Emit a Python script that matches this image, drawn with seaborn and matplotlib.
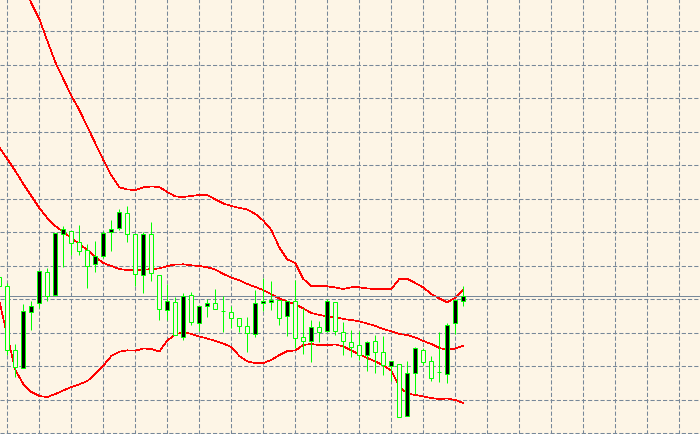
import numpy as np
import pandas as pd
import seaborn as sns
import matplotlib.pyplot as plt

# Culori in stilul terminalului
BG = "#FDF5E6"      # OldLace
GRID = "#778899"    # LightSlateGray
CANDLE = "#00FF00"  # Lime
BAND = "#FF0000"
PX = 0.72           # 1 pixel in puncte la dpi=100

sns.set_theme(style="whitegrid", rc={"axes.facecolor": BG, "figure.facecolor": BG})

# Date (unitati de pret arbitrare)
opens = [156.7, 147.7, 84, 66, 121.7, 131.3, 161.7, 139.3, 199.7, 203.3,
         191.7, 183.7, 170, 177.7, 201.7, 205.7, 221, 200, 158.7, 200,
         159.3, 124, 131.7, 97.3, 139.3, 111, 127.7, 130.7, 123.3, 121.7,
         115.7, 107.7, 99.7, 130.7, 131.7, 134, 117.7, 132.7, 96.7, 92.7,
         107.3, 103.3, 132.3, 101.7, 92.5, 88.7, 78.7, 92.7, 81.7, 68,
         70, 17.7, 61, 84.5, 72.7, 62, 60, 110.7, 132.7]
highs = [159, 151, 90, 130, 132.7, 162.7, 165.7, 201, 207.7, 203.3,
         209, 190, 192.7, 203.3, 214, 225, 228.3, 200, 201.7, 211.7,
         159.3, 149.7, 137, 140.7, 141.7, 128.3, 135, 145, 138.3, 127.7,
         115.7, 117, 144.3, 155.7, 153, 134, 133.3, 154, 126, 114.3,
         112.7, 135, 132.3, 112, 104, 102.7, 93.3, 99, 97.7, 73.5,
         70, 72.7, 87.3, 85.7, 77.7, 101.7, 111, 134, 147.7]
lows = [146, 79.3, 57.3, 65.7, 104, 126, 133.3, 139.3, 167.3, 179.3,
        179.3, 146, 161.7, 176.3, 183.3, 204.3, 192.3, 147.7, 141, 153.3,
        114.3, 114.3, 99, 94.3, 109.3, 103, 116.7, 124.7, 101.7, 105.7,
        101.7, 82.3, 96.7, 123.3, 124, 109, 98.3, 85.7, 80.3, 72.3,
        91.7, 101.7, 99, 79.5, 76.7, 74.3, 63.3, 60.7, 59, 53.3,
        16.7, 17.7, 40, 69.3, 53.5, 52.3, 51, 100, 128.3]
closes = [148.3, 84.3, 67.3, 122.7, 128.3, 162.7, 138.3, 201, 204.7, 191.3,
          182.7, 168.3, 178.3, 201, 205, 221.7, 200, 159.7, 200, 161,
          124.7, 133.3, 99, 138.3, 111.7, 128.3, 131.3, 124.7, 123.3, 115.7,
          107.7, 100.7, 131.3, 132.7, 134.3, 116, 133.3, 95.7, 92.7, 107.3,
          102.3, 133.3, 102.7, 92.7, 86.7, 79.3, 91.7, 81.7, 68.7, 73.5,
          17.5, 60.8, 85.7, 71.7, 56.5, 62, 109.5, 134, 138.3]

# Benzile Bollinger
upper = [503, 485, 468, 450, 431, 415, 393, 371.7, 355, 338.3,
         324, 307.3, 290.6, 274, 258.6, 246.7, 244.5, 244, 246.7, 247.5,
         247, 242, 237.5, 237, 238, 239, 239, 234.5, 230.5, 228,
         226, 224.5, 220, 213.3, 204, 186.5, 174.5, 171, 155, 148,
         147.7, 147.7, 146.5, 145, 146.7, 146.7, 145.5, 145, 145, 145,
         155, 155, 151, 146.5, 140, 135.5, 131.7, 136.3, 144]
middle = [286.5, 275, 263, 250, 238, 226, 216, 208, 202, 196,
          190, 184, 177, 171, 168, 165, 164, 164, 164, 165,
          165.5, 168, 169.5, 169.7, 168.7, 168, 166.7, 164.5, 160, 156.5,
          153.7, 150, 147, 144, 139.7, 135.5, 132.5, 129.5, 125.5, 121,
          119, 117.5, 117, 115, 114, 112.5, 110.5, 108, 105, 102.7,
          100, 99, 96.5, 93, 90, 86, 84, 85.5, 88.3]
lower = [133, 98, 64, 50, 42, 38, 37, 40, 43.5, 47,
         49.7, 53, 60, 68.5, 78, 82.3, 83.7, 83.3, 85.5, 85,
         82.5, 93.5, 99.5, 102, 100, 97.5, 95.5, 93, 90.5, 87,
         78, 72.5, 71, 71, 74, 79, 83, 83.5, 89, 90,
         89, 89, 89.5, 87.5, 83.5, 79.5, 76, 72.5, 68.5, 63.5,
         47, 40.5, 39, 37.5, 36, 35, 35.5, 34, 31]

df = pd.DataFrame({"bar": np.arange(len(opens)), "open": opens, "high": highs,
                   "low": lows, "close": closes})
bands = pd.DataFrame({"bar": df["bar"], "upper": upper, "middle": middle, "lower": lower})
bands = bands.melt(id_vars="bar", var_name="band", value_name="value")

fig = plt.figure(figsize=(7, 4.35), dpi=100)
ax = fig.add_axes([0, 0, 1, 1])

# benzi
sns.lineplot(data=bands, x="bar", y="value", units="band", estimator=None,
             color=BAND, linewidth=0.45, ax=ax, legend=False, zorder=2,
             antialiased=False)

# linia bid
ax.axhline(closes[-1], color=GRID, lw=PX, zorder=2.5, snap=True)

# lumanari: negru = crestere, gol = scadere
up = df["close"] >= df["open"]
ax.vlines(df["bar"], df["low"], df["high"], color=CANDLE, lw=PX, zorder=3,
          snap=True)
ax.bar(df["bar"], (df["close"] - df["open"]).abs(),
       bottom=df[["open", "close"]].min(axis=1), width=0.5,
       color=np.where(up, "black", BG), edgecolor=CANDLE, linewidth=PX, zorder=4,
       snap=True)

# grila
ax.set_xlim(1 / 12, 87.58)
ax.set_ylim(0, 435)
ax.set_xticks(np.arange(1, 87, 4))
ax.set_yticks(np.arange(1, 435, 33.47))
ax.grid(True, color=GRID, lw=0.75, linestyle=(0, (4, 2)))
ax.set_axisbelow(True)
ax.tick_params(length=0, labelbottom=False, labelleft=False)
ax.set_xlabel("")
ax.set_ylabel("")
for s in ax.spines.values():
    s.set_visible(False)

fig.savefig("out.png", dpi=100, facecolor=BG)
